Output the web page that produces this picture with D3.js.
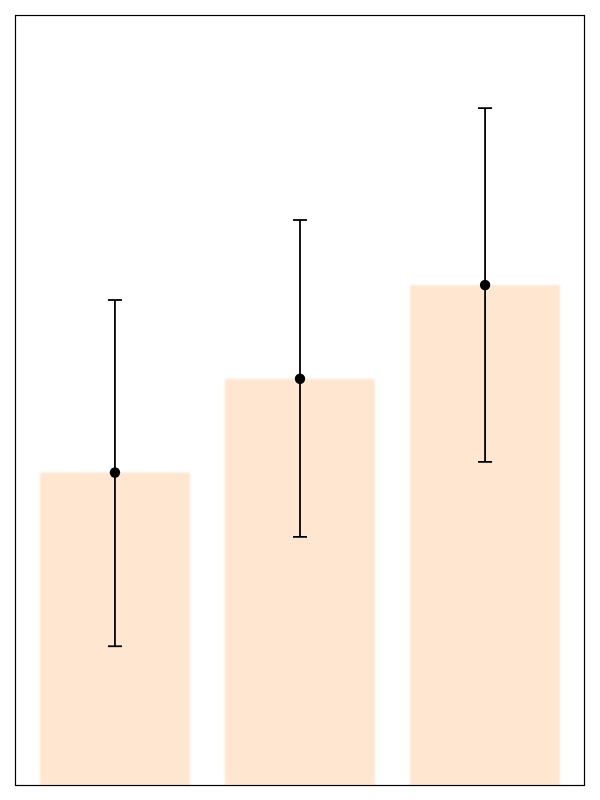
<!DOCTYPE html>
<html lang="en">
  <head>
    <meta charset="utf-8">
    <title>Bars with error bars</title>
    <style>
      body { margin: 0; background: #fff; }
      svg { display: block; }
    </style>
  </head>
  <body>
    <script src="https://cdn.jsdelivr.net/npm/d3@7"></script>
    <script>
      // data
      var categories = ["A", "B", "C"];
      var means = [5.0, 6.5, 8.0];
      var lower = [2.22, 3.97, 5.17];
      var upper = [7.76, 9.04, 10.83];
      var yMax = 12.32;

      var width = 600, height = 800;
      var plotLeft = 15, plotRight = 585, plotTop = 15, plotBottom = 785;

      var data = categories.map(function (c, i) {
        return { cat: c, mean: means[i], lo: lower[i], hi: upper[i] };
      });

      var x = d3.scaleBand(categories, [plotLeft, plotRight])
        .paddingInner(0.19)
        .paddingOuter(0.135);
      var y = d3.scaleLinear([0, yMax], [plotBottom, plotTop]);

      var svg = d3.select("body").append("svg")
        .attr("width", width)
        .attr("height", height);

      var defs = svg.append("defs");
      defs.append("filter").attr("id", "soft")
        .append("feGaussianBlur").attr("stdDeviation", 0.8);

      // bars
      svg.append("g")
        .attr("fill", "#fee6d0")
        .attr("filter", "url(#soft)")
        .selectAll("rect")
        .data(data)
        .join("rect")
        .attr("x", d => x(d.cat))
        .attr("y", d => y(d.mean))
        .attr("width", x.bandwidth())
        .attr("height", d => y(0) - y(d.mean));

      // error bars
      var cap = 7;
      var eb = svg.append("g")
        .attr("stroke", "#000")
        .attr("stroke-width", 1.8)
        .selectAll("g")
        .data(data)
        .join("g")
        .attr("transform", d => `translate(${x(d.cat) + x.bandwidth() / 2},0)`);
      eb.append("line")
        .attr("y1", d => y(d.lo))
        .attr("y2", d => y(d.hi));
      eb.append("line")
        .attr("x1", -cap).attr("x2", cap)
        .attr("y1", d => y(d.hi)).attr("y2", d => y(d.hi));
      eb.append("line")
        .attr("x1", -cap).attr("x2", cap)
        .attr("y1", d => y(d.lo)).attr("y2", d => y(d.lo));

      // mean points
      svg.append("g")
        .selectAll("circle")
        .data(data)
        .join("circle")
        .attr("cx", d => x(d.cat) + x.bandwidth() / 2)
        .attr("cy", d => y(d.mean))
        .attr("r", 5.2)
        .attr("fill", "#000");

      // frame
      svg.append("rect")
        .attr("x", plotLeft + 0.5)
        .attr("y", plotTop + 0.5)
        .attr("width", plotRight - plotLeft - 1)
        .attr("height", plotBottom - plotTop)
        .attr("fill", "none")
        .attr("stroke", "#000")
        .attr("stroke-width", 1.2);
    </script>
  </body>
</html>
